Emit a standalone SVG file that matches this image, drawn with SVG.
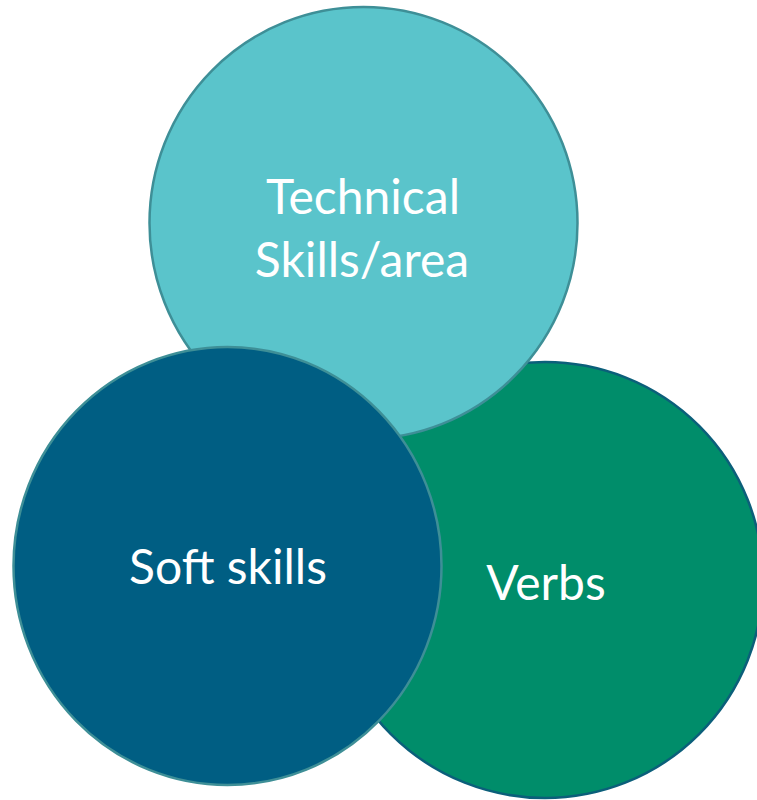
<svg xmlns="http://www.w3.org/2000/svg" width="757" height="800" viewBox="0 0 757 800">
<style>
.lbl{font-family:Lato,"Open Sans","Liberation Sans",sans-serif;font-size:48px;fill:#ffffff;text-anchor:middle}
</style>
<rect width="757" height="800" fill="#ffffff"/>
<g id="verbs">
<circle cx="545" cy="580" r="218" fill="#008D6A" stroke="#0B5F7A" stroke-width="2.5"/>
<text class="lbl" x="546" y="600">Verbs</text>
</g>
<g id="technical">
<ellipse cx="363.5" cy="223" rx="214" ry="216" fill="#5AC4CB" stroke="#3E8F97" stroke-width="2.5"/>
<text class="lbl" x="363" y="214">Technical</text>
<text class="lbl" x="362" y="277">Skills/area</text>
</g>
<g id="soft">
<ellipse cx="227.5" cy="566" rx="214" ry="219" fill="#005E83" stroke="#3E8F97" stroke-width="2.5"/>
<text class="lbl" x="228" y="584">Soft skills</text>
</g>
<g id="connectors"></g>
</svg>
